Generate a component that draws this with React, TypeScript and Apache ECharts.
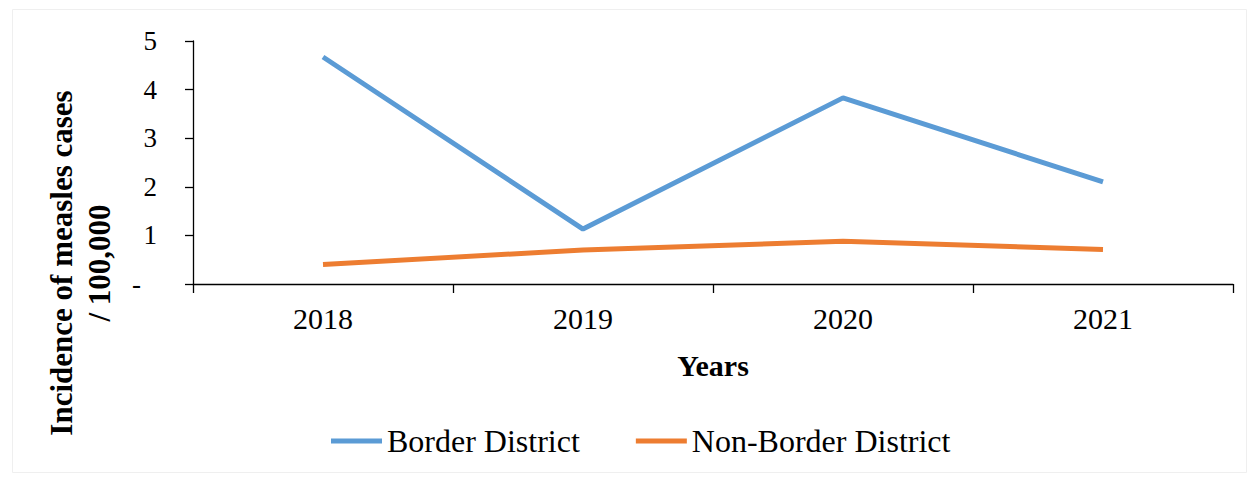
import React, { useEffect, useRef } from "react";
import * as echarts from "echarts";

const years = ["2018", "2019", "2020", "2021"];
const borderDistrict = [4.67, 1.13, 3.83, 2.1];
const nonBorderDistrict = [0.4, 0.7, 0.88, 0.71];
const seriesNames = ["Border District", "Non-Border District"];
const yTitleLines = ["Incidence of measles cases", "/ 100,000"];
const xTitle = "Years";

const FONT = '"Liberation Serif", "Times New Roman", serif';

export default function App() {
  const ref = useRef<HTMLDivElement>(null);
  useEffect(() => {
    if (!ref.current) return;
    const chart = echarts.init(ref.current, null, { renderer: "svg" });
    chart.setOption({
      animation: false,
      backgroundColor: "#ffffff",
      textStyle: { fontFamily: FONT },
      grid: { left: 193, right: 18, top: 41, bottom: 193, containLabel: false },
      legend: {
        left: 326,
        top: 420,
        itemWidth: 51,
        itemHeight: 5,
        itemGap: 56,
        icon: "rect",
        textStyle: { fontFamily: FONT, fontSize: 32, color: "#000" },
        data: seriesNames,
      },
      xAxis: {
        type: "category",
        data: years,
        boundaryGap: true,
        axisLine: { lineStyle: { color: "#000", width: 1.3 } },
        axisTick: { show: true, length: 9, inside: false, alignWithLabel: false, lineStyle: { color: "#000", width: 1.3 } },
        axisLabel: { fontFamily: FONT, fontSize: 30, color: "#000", margin: 19 },
        splitLine: { show: false },
      },
      yAxis: {
        type: "value",
        min: 0,
        max: 5,
        interval: 1,
        axisLine: { show: true, lineStyle: { color: "#000", width: 1.3 } },
        axisTick: { show: true, length: 8, inside: false, lineStyle: { color: "#000", width: 1.3 } },
        splitLine: { show: false },
        axisLabel: {
          fontFamily: FONT,
          fontSize: 27,
          color: "#000",
          margin: 36,
          formatter: (v: number) => (v === 0 ? "{d|-}" : String(v)),
          rich: { d: { fontFamily: FONT, fontSize: 27, color: "#000", padding: [0, 16, 0, 0] } },
        },
      },
      graphic: [
        {
          type: "rect",
          shape: { x: 12.5, y: 9.5, width: 1234, height: 463 },
          style: { fill: "none", stroke: "#efefef", lineWidth: 1 },
          silent: true,
          z: -1,
        },
        {
          type: "text",
          x: 61,
          y: 263,
          rotation: Math.PI / 2,
          style: {
            text: yTitleLines[0],
            fontFamily: FONT,
            fontSize: 31,
            fontWeight: "bold",
            fill: "#000",
            align: "center",
            verticalAlign: "middle",
          },
        },
        {
          type: "text",
          x: 99,
          y: 263,
          rotation: Math.PI / 2,
          style: {
            text: yTitleLines[1],
            fontFamily: FONT,
            fontSize: 31,
            fontWeight: "bold",
            fill: "#000",
            align: "center",
            verticalAlign: "middle",
          },
        },
        {
          type: "text",
          x: 713,
          y: 365,
          style: {
            text: xTitle,
            fontFamily: FONT,
            fontSize: 30,
            fontWeight: "bold",
            fill: "#000",
            align: "center",
            verticalAlign: "middle",
          },
        },
      ],
      series: [
        {
          name: seriesNames[0],
          type: "line",
          data: borderDistrict,
          symbol: "none",
          lineStyle: { color: "#5B9BD5", width: 5 },
          itemStyle: { color: "#5B9BD5" },
        },
        {
          name: seriesNames[1],
          type: "line",
          data: nonBorderDistrict,
          symbol: "none",
          lineStyle: { color: "#ED7D31", width: 5 },
          itemStyle: { color: "#ED7D31" },
        },
      ],
    });
    return () => chart.dispose();
  }, []);
  return (
    <div
      ref={ref}
      style={{ position: "fixed", left: 0, top: 0, width: 1251, height: 477, background: "#fff" }}
    />
  );
}
